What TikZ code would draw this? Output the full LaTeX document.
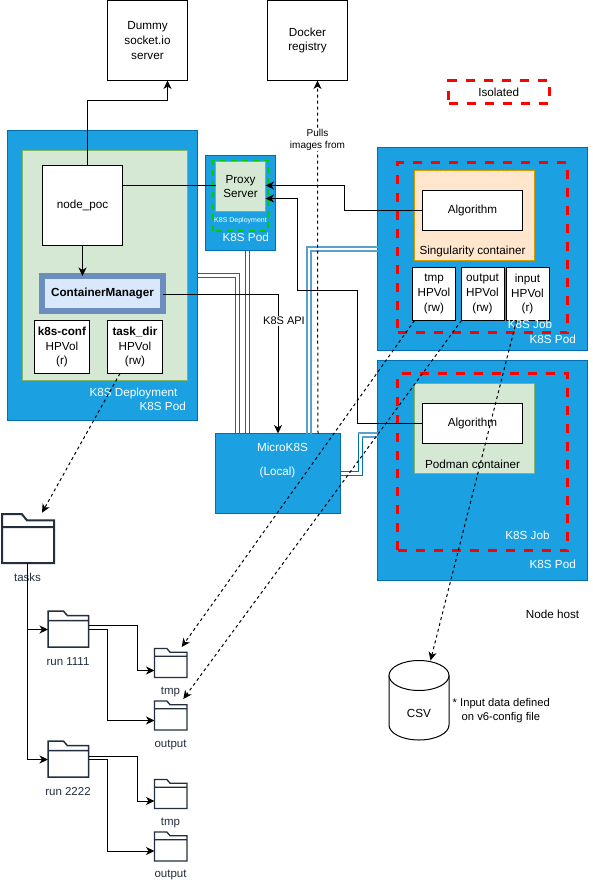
\documentclass[tikz,border=0pt]{standalone}
\usepackage{fontspec}
\setmainfont{Liberation Sans}
\usetikzlibrary{arrows.meta}
\definecolor{podblue}{HTML}{1BA1E2}
\definecolor{podedge}{HTML}{006EAF}
\definecolor{greenfill}{HTML}{D5E8D4}
\definecolor{greenedge}{HTML}{82B366}
\definecolor{orangefill}{HTML}{FFE6CC}
\definecolor{orangeedge}{HTML}{D79B00}
\definecolor{cmfill}{HTML}{DAE8FC}
\definecolor{cmedge}{HTML}{6C8EBF}
\definecolor{foldercol}{HTML}{232F3E}
\tikzset{
  boxat/.style n args={4}{rectangle,inner sep=0pt,outer sep=0pt,
    minimum width={#3-#1},minimum height={#4-#2},at={({(#1+#3)/2},{(#2+#4)/2})}},
  txt/.style={font=\fontsize{11.7}{14.6}\selectfont,align=center,text=black},
  whitebox/.style={draw=black,fill=white,line width=1pt,txt},
  pod/.style={draw=podedge,fill=podblue,line width=1pt},
  greenbox/.style={draw=greenedge,fill=greenfill,line width=1pt},
  isolated/.style={draw=red,line width=3pt,dash pattern=on 9pt off 9pt},
  wlabel/.style={font=\fontsize{11.7}{14}\selectfont,text=white,inner sep=0pt},
  flabel/.style={font=\fontsize{11.5}{13}\selectfont,text=foldercol,inner sep=0pt},
  tlabel/.style={font=\fontsize{11.7}{14.4}\selectfont,text=black,inner sep=0pt,align=left},
  conn/.style={draw=black,line width=1pt,-{Stealth[length=8.5pt,width=8pt,inset=2.5pt]}},
  plainconn/.style={draw=black,line width=1pt},
  dashconn/.style={draw=black,line width=1pt,dash pattern=on 3pt off 3pt,-{Stealth[length=8.5pt,width=8pt,inset=2.5pt]}},
  linkline/.style={draw=podedge,line width=1.2pt},
  linklight/.style={draw=podedge!65,line width=1.6pt},
}
\newcommand{\myfolder}[6]{%
  \node[boxat={#2}{#3}{#4}{#5}] (#1) {};
  \draw[foldercol,line width=#6,fill=white,line join=miter,shift={(#2,#3)},xscale={#4-#2},yscale={#5-#3}]
    (0,1)--(0,0)--(.38,0)--(.48,.13)--(1,.13)--(1,1)--cycle (0,.27)--(1,.27);
}
\begin{document}
\begin{tikzpicture}[x=1pt,y=-1pt]
\useasboundingbox (0,0) rectangle (593,883);
\fill[white] (0,0) rectangle (593,883);

% top boxes
\node[whitebox,boxat={107.5}{0.5}{187.5}{80.5}] (dummy) {Dummy\\socket.io\\server};
\node[whitebox,boxat={267.5}{0.5}{347.5}{80.5}] (docker) {Docker\\registry};
\node[isolated,txt,boxat={448.5}{80.5}{549}{103.5}] (iso) {Isolated};

% left pod
\node[pod,boxat={7.5}{130.5}{197.5}{420.5}] (leftpod) {};
\node[greenbox,boxat={22.5}{150.5}{187.5}{380.5}] (leftdep) {};
\node[whitebox,boxat={42.5}{165.5}{122.5}{245.5}] (nodepoc) {node\_poc};
\node[boxat={42}{276}{163}{311},draw=cmedge,fill=cmfill,line width=6pt,txt,font=\fontsize{11.7}{14.6}\selectfont\bfseries] (cm) {ContainerManager};
\node[whitebox,boxat={34.5}{320.5}{89.5}{373.5}] (k8sconf) {\textbf{k8s-conf}\\HPVol\\(r)};
\node[whitebox,boxat={107.5}{320.5}{162.5}{373.5}] (taskdir) {\textbf{task\_dir}\\HPVol\\(rw)};
\node[wlabel,anchor=east] (lbldep) at (177.5,393) {K8S Deployment};
\node[wlabel,anchor=east] (lblpodl) at (186,406) {K8S Pod};

% proxy pod
\node[pod,boxat={205.5}{155.5}{275.5}{250.5}] (proxypod) {};
\node[draw=none,boxat={212.5}{160.5}{268}{230.5}] (proxydashbox) {};
\draw[draw=green!80!black,line width=2pt,dash pattern=on 6pt off 5pt] (proxydashbox.south west) rectangle (proxydashbox.north east);
\node[greenbox,txt,boxat={215.5}{161.5}{265.5}{211.5}] (proxy) {Proxy\\Server};
\node[wlabel,font=\fontsize{7}{8}\selectfont] (lbldepsmall) at (240.5,220.5) {K8S Deployment};
\node[wlabel,anchor=east] (lblpodp) at (269,237.5) {K8S Pod};

% top right pod
\node[pod,boxat={377.5}{147.5}{587.5}{350.5}] (rpodA) {};
\node[isolated,boxat={397.5}{162.5}{567.5}{332.5}] (isoA) {};
\node[draw=orangeedge,fill=orangefill,line width=1pt,boxat={414.5}{170.5}{534.5}{260.5}] (sing) {};
\node[whitebox,boxat={422.5}{190.5}{522.5}{230.5}] (algA) {Algorithm};
\node[txt] (lblsing) at (472.5,251.5) {Singularity container};
\node[whitebox,boxat={412.5}{267.5}{455.5}{320.5}] (tmpvol) {tmp\\HPVol\\(rw)};
\node[whitebox,boxat={461}{267.5}{504}{320.5}] (outvol) {output\\HPVol\\(rw)};
\node[whitebox,boxat={506}{267.5}{549}{320.5}] (invol) {input\\HPVol\\(r)};
\node[wlabel] (lbljobA) at (530,324.5) {K8S Job};
\node[wlabel,anchor=east] (lblpodA) at (576,339.5) {K8S Pod};

% lower right pod
\node[pod,boxat={377.5}{360.5}{587.5}{580.5}] (rpodB) {};
\node[isolated,boxat={397.5}{373.5}{567.5}{550.5}] (isoB) {};
\node[greenbox,boxat={414.5}{383.5}{534.5}{473.5}] (podman) {};
\node[whitebox,boxat={422.5}{403.5}{522.5}{443.5}] (algB) {Algorithm};
\node[txt] (lblpodman) at (472.5,464.5) {Podman container};
\node[wlabel] (lbljobB) at (527.5,535) {K8S Job};
\node[wlabel,anchor=east] (lblpodB) at (576,564.5) {K8S Pod};

% microk8s
\node[pod,boxat={215.5}{433.5}{340.5}{513.5}] (micro) {};
\node[wlabel] (lblmicro) at (282.5,447.5) {MicroK8S};
\node[wlabel] (lbllocal) at (277.5,472.5) {(Local)};

% link lines
\draw[linkline] (leftpod.east |- 0,273.5) -- (239.5,273.5) -- (micro.north -| 239.5,0);
\draw[linkline] (leftpod.east |- 0,277.5) -- (235.5,277.5) -- (micro.north -| 235.5,0);
\draw[linkline] (proxypod.south -| 245.5,0) -- (micro.north -| 245.5,0);
\draw[linkline] (proxypod.south -| 249.5,0) -- (micro.north -| 249.5,0);
\draw[linklight] (micro.north -| 307,0) -- (307,247) -- (rpodA.west |- 0,247);
\draw[linklight] (micro.north -| 311,0) -- (311,251) -- (rpodA.west |- 0,251);
\draw[linkline] (micro.east |- 0,471.5) -- (358.5,471.5) -- (358.5,433);
\draw[linkline] (micro.east |- 0,475.5) -- (362.5,475.5) -- (362.5,437);
\draw[linklight] (358,433) -- (rpodB.west |- 0,433);
\draw[linklight] (362,437) -- (rpodB.west |- 0,437);

% solid connectors
\draw[conn] (nodepoc.north -| 87.5,0) -- (87.5,100.5) -- (167.5,100.5) -- (dummy.south -| 167.5,0);
\draw[conn] (nodepoc.south) -- (cm.north -| nodepoc.south);
\draw[plainconn] (nodepoc.east |- 0,185.5) -- (proxy.west |- 0,185.5);
\draw[conn] (algA.west) -- (344,210.5) -- (344,185.5) -- (proxy.east |- 0,185.5);
\draw[conn] (algB.west) -- (357.5,423.5) -- (357.5,290.5) -- (297.5,290.5) -- (297.5,198.5) -- (proxy.east |- 0,198.5);
\draw[conn] (cm.east |- 0,294) -- (278,294) -- (micro.north -| 278,0);
\node[fill=white,inner sep=1pt,font=\fontsize{11}{12}\selectfont] (lblapi) at (284,321) {K8S API};

% folders
\myfolder{tasks}{2}{514}{54}{563}{2pt}
\myfolder{runA}{48}{611}{88.5}{647}{1.5pt}
\myfolder{runB}{48}{741}{88.5}{777}{1.5pt}
\myfolder{tmpA}{154.5}{648.5}{187}{677.5}{1.3pt}
\myfolder{outA}{154.5}{701}{187}{730}{1.3pt}
\myfolder{tmpB}{154.5}{779.5}{187}{808.5}{1.3pt}
\myfolder{outB}{154.5}{832}{187}{861}{1.3pt}
\node[flabel] (lbltasks) at (27.5,577.5) {tasks};
\node[flabel] (lblrunA) at (68,661.5) {run 1111};
\node[flabel] (lblrunB) at (68,792) {run 2222};
\node[flabel] (lbltmpA) at (170.5,692) {tmp};
\node[flabel] (lbloutA) at (170.5,745) {output};
\node[flabel] (lbltmpB) at (170.5,823) {tmp};
\node[flabel] (lbloutB) at (170.5,875) {output};

% folder connectors
\coordinate (trunk) at (27.7,629.5);
\draw[plainconn] (tasks.south -| trunk) -- (27.7,759.5);
\draw[conn] (trunk) -- (runA.west |- trunk);
\draw[conn] (27.7,759.5) -- (runB.west |- 0,759.5);
\draw[conn] (runA.east |- 0,625.5) -- (137.5,625.5) -- (137.5,670.5) -- (tmpA.west |- 0,670.5);
\draw[conn] (runA.east |- 0,629) -- (107.5,629) -- (107.5,720.5) -- (outA.west |- 0,720.5);
\draw[conn] (runB.east |- 0,756) -- (137.5,756) -- (137.5,801) -- (tmpB.west |- 0,801);
\draw[conn] (runB.east |- 0,759.5) -- (107.5,759.5) -- (107.5,851) -- (outB.west |- 0,851);

% CSV
\node[boxat={389}{660.5}{449}{740},txt] (csv) {};
\draw[black,line width=1pt,fill=white] (389,675.5) -- (389,725) .. controls (389,733.3) and (402.4,740) .. (419,740) .. controls (435.6,740) and (449,733.3) .. (449,725) -- (449,675.5);
\draw[black,line width=1pt,fill=white] (419,675.5) ellipse [x radius=30,y radius=15];
\node[txt] (lblcsv) at (419,713) {CSV};
\node[tlabel,font=\fontsize{11.2}{14}\selectfont,anchor=west] (lblinput) at (452.5,704) {* Input data defined};
\node[tlabel,font=\fontsize{11.2}{14}\selectfont,anchor=west] (lblinputb) at (461.5,718) {on v6-config file};
\node[tlabel,font=\fontsize{11.7}{14}\selectfont] (lblhost) at (552.5,614) {Node host};

% dashed connectors
\coordinate (tiptasks) at (42,512.7);
\coordinate (tiptmp) at (181.7,647);
\coordinate (tipout) at (183.3,699);
\draw[dashconn] (micro.north -| 318,0) -- (317.5,260) -- (docker.south -| 317.5,0);
\node[fill=white,inner sep=1pt,align=center,font=\fontsize{10}{12}\selectfont] (lblpull) at (317.5,139.5) {Pulls\\images from};
\draw[dashconn] (taskdir.south -| 120,0) -- (tiptasks);
\draw[dashconn] (tmpvol.south -| 414.5,0) -- (tiptmp);
\draw[dashconn] (outvol.south -| 461.5,0) -- (tipout);
\draw[dashconn] (invol.south -| 516.5,0) -- (csv.north -| 430.5,0);
\end{tikzpicture}
\end{document}
